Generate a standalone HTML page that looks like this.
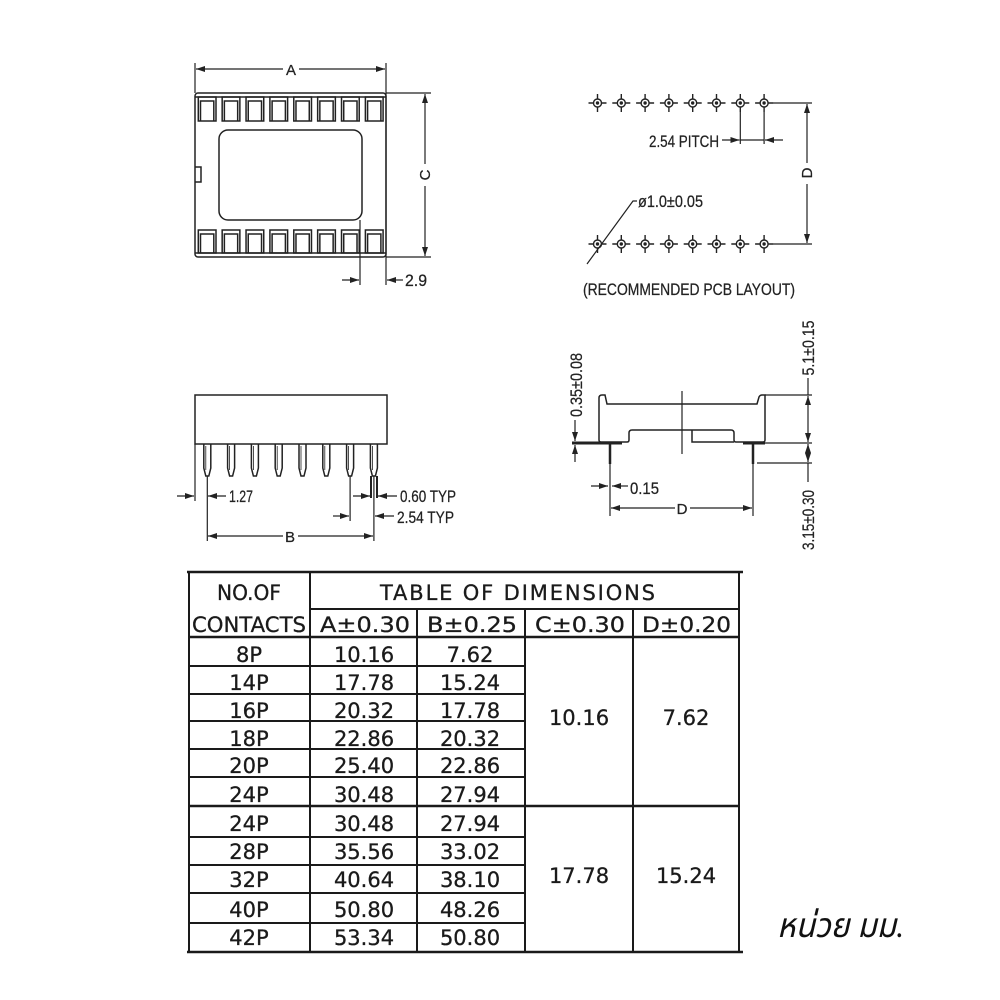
<!DOCTYPE html>
<html><head><meta charset="utf-8"><style>
html,body{margin:0;padding:0;background:#fff;}
svg{display:block;}
.d{font-family:"Liberation Sans",sans-serif;font-size:17px;fill:#222;stroke:#222;stroke-width:0.25;}
.l{font-family:"Liberation Sans",sans-serif;font-size:15px;fill:#222;stroke:#222;stroke-width:0.25;}
.t{font-family:"DejaVu Sans","Liberation Sans",sans-serif;font-size:21px;fill:#1a1a1a;stroke:#1a1a1a;stroke-width:0.3;}
</style></head><body>
<svg width="1000" height="1000" viewBox="0 0 1000 1000" xmlns="http://www.w3.org/2000/svg">
<defs>
<marker id="a" markerWidth="9" markerHeight="6" refX="9" refY="3" orient="auto-start-reverse" markerUnits="userSpaceOnUse"><path d="M0,0 L9,3 L0,6 z" fill="#222"/></marker>
</defs>
<rect width="1000" height="1000" fill="#fff"/>

<!-- ===== TOP VIEW ===== -->
<g stroke="#222" stroke-width="1.5" fill="none">
<rect x="195" y="93" width="191" height="164" rx="3"/>
<line x1="195" y1="97" x2="386" y2="97"/>
<line x1="195" y1="253" x2="386" y2="253"/>
<path d="M195,167 H201 V182 H195"/>
<rect x="219" y="130" width="143" height="90" rx="9"/>
<g id="ct">
<rect x="198.3" y="97" width="17.7" height="24"/>
<path d="M200.5,121 V101 H213.8 V121"/>
</g>
<use href="#ct" x="23.87"/><use href="#ct" x="47.74"/><use href="#ct" x="71.61"/><use href="#ct" x="95.48"/><use href="#ct" x="119.35"/><use href="#ct" x="143.22"/><use href="#ct" x="167.09"/>
<g id="cb">
<rect x="198.3" y="230" width="17.7" height="23"/>
<path d="M200.5,253 V234 H213.8 V253"/>
</g>
<use href="#cb" x="23.87"/><use href="#cb" x="47.74"/><use href="#cb" x="71.61"/><use href="#cb" x="95.48"/><use href="#cb" x="119.35"/><use href="#cb" x="143.22"/><use href="#cb" x="167.09"/>
</g>
<g stroke="#222" stroke-width="1.2" fill="none">
<line x1="195" y1="63" x2="195" y2="93"/>
<line x1="386" y1="63" x2="386" y2="285"/>
<line x1="283" y1="69" x2="196" y2="69" marker-end="url(#a)"/>
<line x1="299" y1="69" x2="385" y2="69" marker-end="url(#a)"/>
<line x1="386" y1="93" x2="431" y2="93"/>
<line x1="386" y1="257" x2="431" y2="257"/>
<line x1="425" y1="164" x2="425" y2="94" marker-end="url(#a)"/>
<line x1="425" y1="186" x2="425" y2="256" marker-end="url(#a)"/>
<line x1="360" y1="220" x2="360" y2="285"/>
<line x1="342" y1="280" x2="359" y2="280" marker-end="url(#a)"/>
<line x1="403" y1="280" x2="387" y2="280" marker-end="url(#a)"/>
</g>
<text class="l" x="291" y="75" text-anchor="middle">A</text>
<text class="l" transform="rotate(-90 425 175)" x="425" y="180" text-anchor="middle">C</text>
<text class="d" x="405" y="286" textLength="22" lengthAdjust="spacingAndGlyphs">2.9</text>

<!-- ===== PCB LAYOUT ===== -->
<g id="pad" stroke="#222" stroke-width="1.4" fill="none">
<circle cx="597.5" cy="103" r="4"/>
<circle cx="597.5" cy="103" r="1" fill="#222"/>
<path d="M588.5,103 H593.5 M601.5,103 H606.5 M597.5,94 V99 M597.5,107 V112"/>
</g>
<use href="#pad" x="23.8"/><use href="#pad" x="47.6"/><use href="#pad" x="71.4"/><use href="#pad" x="95.2"/><use href="#pad" x="119"/><use href="#pad" x="142.8"/><use href="#pad" x="166.6"/>
<use href="#pad" y="141"/><use href="#pad" x="23.8" y="141"/><use href="#pad" x="47.6" y="141"/><use href="#pad" x="71.4" y="141"/><use href="#pad" x="95.2" y="141"/><use href="#pad" x="119" y="141"/><use href="#pad" x="142.8" y="141"/><use href="#pad" x="166.6" y="141"/>
<g stroke="#222" stroke-width="1.2" fill="none">
<line x1="773" y1="103" x2="812" y2="103"/>
<line x1="773" y1="244" x2="812" y2="244"/>
<line x1="807" y1="163" x2="807" y2="104" marker-end="url(#a)"/>
<line x1="807" y1="184" x2="807" y2="243" marker-end="url(#a)"/>
<line x1="740.3" y1="112" x2="740.3" y2="144"/>
<line x1="764.1" y1="112" x2="764.1" y2="144"/>
<line x1="722" y1="140" x2="739.5" y2="140" marker-end="url(#a)"/>
<line x1="740.3" y1="140" x2="764.1" y2="140"/>
<line x1="783" y1="140" x2="765" y2="140" marker-end="url(#a)"/>
<path d="M587,264 L633,201 H637"/>
</g>
<text class="d" x="649" y="147" textLength="70" lengthAdjust="spacingAndGlyphs">2.54 PITCH</text>
<text class="d" x="638" y="207" textLength="65" lengthAdjust="spacingAndGlyphs">ø1.0±0.05</text>
<text class="l" transform="rotate(-90 807 173)" x="807" y="178" text-anchor="middle">D</text>
<text class="d" x="583" y="295" textLength="212" lengthAdjust="spacingAndGlyphs">(RECOMMENDED PCB LAYOUT)</text>

<!-- ===== SIDE VIEW LEFT ===== -->
<g stroke="#222" stroke-width="1.5" fill="none">
<rect x="195" y="395" width="192" height="49"/>
<g id="pin"><path d="M203.8,444 V468 L205.8,476 H208.8 L210.8,468 V444"/><path d="M205.8,446 V470" stroke-width="0.8"/></g>
<use href="#pin" x="23.8"/><use href="#pin" x="47.6"/><use href="#pin" x="71.4"/><use href="#pin" x="95.2"/><use href="#pin" x="119"/><use href="#pin" x="142.8"/><use href="#pin" x="166.6"/>
</g>
<g stroke="#222" stroke-width="1.2" fill="none">
<line x1="195" y1="444" x2="195" y2="501"/>
<line x1="207.3" y1="476" x2="207.3" y2="541"/>
<line x1="350.1" y1="476" x2="350.1" y2="521"/>
<line x1="373.9" y1="476" x2="373.9" y2="541"/>
<line x1="371" y1="476" x2="371" y2="498" stroke-width="2"/>
<line x1="377" y1="476" x2="377" y2="498" stroke-width="2"/>
<line x1="177" y1="496" x2="194" y2="496" marker-end="url(#a)"/>
<line x1="226" y1="496" x2="208" y2="496" marker-end="url(#a)"/>
<line x1="353" y1="496" x2="370" y2="496" marker-end="url(#a)"/>
<line x1="397" y1="496" x2="378" y2="496" marker-end="url(#a)"/>
<line x1="333" y1="516" x2="349" y2="516" marker-end="url(#a)"/>
<line x1="394" y1="516" x2="375" y2="516" marker-end="url(#a)"/>
<line x1="283" y1="536" x2="208" y2="536" marker-end="url(#a)"/>
<line x1="298" y1="536" x2="373" y2="536" marker-end="url(#a)"/>
</g>
<text class="d" x="229" y="502" textLength="24" lengthAdjust="spacingAndGlyphs">1.27</text>
<text class="d" x="400" y="502" textLength="56" lengthAdjust="spacingAndGlyphs">0.60 TYP</text>
<text class="d" x="397" y="523" textLength="57" lengthAdjust="spacingAndGlyphs">2.54 TYP</text>
<text class="l" x="290" y="542" text-anchor="middle">B</text>

<!-- ===== SIDE VIEW RIGHT ===== -->
<g stroke="#222" stroke-width="1.5" fill="none">
<path d="M599,440 V398 Q599,395 602,395 H605 L607,404 H757 L759,397 Q760,395 762,395 H765 V440 Q765,442 763,442 H736 Q734,442 734,440 V433 Q734,430 731,430 H632 Q629,430 629,433 V440 Q629,442 627,442 H601 Q599,442 599,440 Z"/>
<path d="M692,430 V442 H734"/>
<line x1="682" y1="391" x2="682" y2="454" stroke-width="1.2"/>
<line x1="572" y1="443" x2="622" y2="443" stroke-width="3"/>
<line x1="743" y1="443" x2="765" y2="443" stroke-width="3"/>
<line x1="610" y1="443" x2="610" y2="464" stroke-width="2.5"/>
<line x1="753" y1="443" x2="753" y2="464" stroke-width="2.5"/>
</g>
<g stroke="#222" stroke-width="1.2" fill="none">
<line x1="765" y1="395" x2="812" y2="395"/>
<line x1="765" y1="443" x2="812" y2="443"/>
<line x1="757" y1="463" x2="812" y2="463"/>
<line x1="808" y1="378" x2="808" y2="395"/>
<line x1="808" y1="419" x2="808" y2="396" marker-end="url(#a)"/>
<line x1="808" y1="419" x2="808" y2="442" marker-end="url(#a)"/>
<line x1="808" y1="453" x2="808" y2="444" marker-end="url(#a)"/>
<line x1="808" y1="453" x2="808" y2="462" marker-end="url(#a)"/>
<line x1="808" y1="463" x2="808" y2="482"/>
<line x1="575" y1="420" x2="575" y2="441" marker-end="url(#a)"/>
<line x1="575" y1="462" x2="575" y2="445" marker-end="url(#a)"/>
<line x1="610" y1="464" x2="610" y2="516"/>
<line x1="753" y1="464" x2="753" y2="516"/>
<line x1="591" y1="486" x2="608" y2="486" marker-end="url(#a)"/>
<line x1="628" y1="486" x2="612" y2="486" marker-end="url(#a)"/>
<line x1="675" y1="508" x2="611" y2="508" marker-end="url(#a)"/>
<line x1="690" y1="508" x2="752" y2="508" marker-end="url(#a)"/>
</g>
<text class="d" transform="rotate(-90 576 385)" x="576" y="391" text-anchor="middle" textLength="64" lengthAdjust="spacingAndGlyphs">0.35±0.08</text>
<text class="d" transform="rotate(-90 808 348)" x="808" y="354" text-anchor="middle" textLength="55" lengthAdjust="spacingAndGlyphs">5.1±0.15</text>
<text class="d" transform="rotate(-90 808 520)" x="808" y="526" text-anchor="middle" textLength="60" lengthAdjust="spacingAndGlyphs">3.15±0.30</text>
<text class="d" x="630" y="494" textLength="29" lengthAdjust="spacingAndGlyphs">0.15</text>
<text class="l" x="682" y="514" text-anchor="middle">D</text>

<!-- ===== TABLE ===== -->
<g stroke="#1a1a1a" stroke-width="2" fill="none">
<line x1="187" y1="572" x2="743" y2="572" stroke-width="2.5"/>
<line x1="187" y1="952" x2="743" y2="952" stroke-width="2.5"/>
<line x1="189" y1="572" x2="189" y2="952"/>
<line x1="310" y1="572" x2="310" y2="952"/>
<line x1="417" y1="609" x2="417" y2="952"/>
<line x1="525" y1="609" x2="525" y2="952"/>
<line x1="633" y1="609" x2="633" y2="952"/>
<line x1="739" y1="572" x2="739" y2="952"/>
<line x1="310" y1="609" x2="739" y2="609"/>
<line x1="189" y1="637" x2="739" y2="637" stroke-width="2.5"/>
<line x1="189" y1="666" x2="525" y2="666"/>
<line x1="189" y1="694" x2="525" y2="694"/>
<line x1="189" y1="721" x2="525" y2="721"/>
<line x1="189" y1="749" x2="525" y2="749"/>
<line x1="189" y1="777" x2="525" y2="777"/>
<line x1="189" y1="806" x2="739" y2="806" stroke-width="2.5"/>
<line x1="189" y1="837" x2="525" y2="837"/>
<line x1="189" y1="865" x2="525" y2="865"/>
<line x1="189" y1="893" x2="525" y2="893"/>
<line x1="189" y1="923" x2="525" y2="923"/>
</g>
<text class="t" x="249" y="600" text-anchor="middle" textLength="64" lengthAdjust="spacingAndGlyphs">NO.OF</text>
<text class="t" x="380" y="600" textLength="275" lengthAdjust="spacing">TABLE OF DIMENSIONS</text>
<text class="t" x="192" y="632" textLength="114" lengthAdjust="spacingAndGlyphs">CONTACTS</text>
<text class="t" x="320" y="632" textLength="90" lengthAdjust="spacingAndGlyphs">A±0.30</text>
<text class="t" x="427" y="632" textLength="90" lengthAdjust="spacingAndGlyphs">B±0.25</text>
<text class="t" x="535" y="632" textLength="90" lengthAdjust="spacingAndGlyphs">C±0.30</text>
<text class="t" x="642" y="632" textLength="89" lengthAdjust="spacingAndGlyphs">D±0.20</text>

<g class="t" text-anchor="middle">
<text x="249" y="662">8P</text><text x="364" y="662">10.16</text><text x="470" y="662">7.62</text>
<text x="249" y="690">14P</text><text x="364" y="690">17.78</text><text x="470" y="690">15.24</text>
<text x="249" y="718">16P</text><text x="364" y="718">20.32</text><text x="470" y="718">17.78</text>
<text x="249" y="746">18P</text><text x="364" y="746">22.86</text><text x="470" y="746">20.32</text>
<text x="249" y="773">20P</text><text x="364" y="773">25.40</text><text x="470" y="773">22.86</text>
<text x="249" y="802">24P</text><text x="364" y="802">30.48</text><text x="470" y="802">27.94</text>
<text x="249" y="831">24P</text><text x="364" y="831">30.48</text><text x="470" y="831">27.94</text>
<text x="249" y="859">28P</text><text x="364" y="859">35.56</text><text x="470" y="859">33.02</text>
<text x="249" y="887">32P</text><text x="364" y="887">40.64</text><text x="470" y="887">38.10</text>
<text x="249" y="917">40P</text><text x="364" y="917">50.80</text><text x="470" y="917">48.26</text>
<text x="249" y="945">42P</text><text x="364" y="945">53.34</text><text x="470" y="945">50.80</text>
<text x="579" y="725">10.16</text><text x="686" y="725">7.62</text>
<text x="579" y="883">17.78</text><text x="686" y="883">15.24</text>
</g>

<text x="777" y="937" style="font-family:'Liberation Serif','Noto Sans Thai','Garuda','Loma','Norasi',serif;font-style:italic;font-size:34px;fill:#111;" textLength="127" lengthAdjust="spacingAndGlyphs">หน่วย มม.</text>
</svg>
</body></html>
